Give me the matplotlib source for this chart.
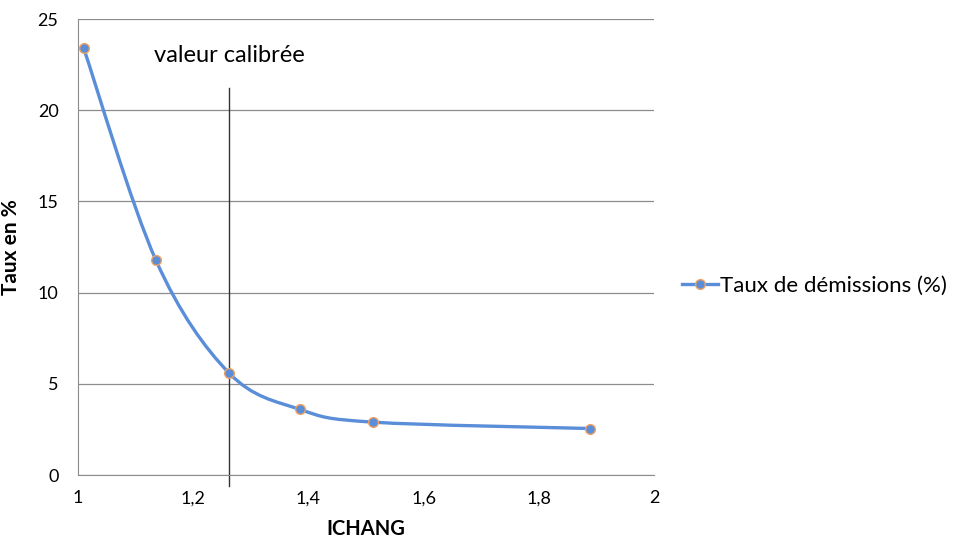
import numpy as np
import matplotlib.pyplot as plt
from matplotlib.path import Path
from matplotlib.patches import PathPatch
from matplotlib.lines import Line2D
from matplotlib.ticker import FuncFormatter

# donnees
ichang = [1.01, 1.135, 1.262, 1.385, 1.512, 1.889]
taux = [23.4, 11.8, 5.6, 3.6, 2.9, 2.55]
x_calib = 1.262

plt.rcParams['font.family'] = ['Lato', 'DejaVu Sans']

fig = plt.figure(figsize=(9.65, 5.46), dpi=100)
ax = fig.add_axes([0.0808, 0.13, 0.597, 0.835])

bleu = '#5A8ED8'
orange = '#F0A062'

# courbe lissee (bezier type Excel)
pts = np.column_stack([ichang, taux])
n = len(pts)
verts = [pts[0]]
codes = [Path.MOVETO]
for i in range(n - 1):
    p0 = pts[i - 1] if i > 0 else pts[i]
    p1 = pts[i]
    p2 = pts[i + 1]
    p3 = pts[i + 2] if i + 2 < n else pts[i + 1]
    c1 = p1 + (p2 - p0) / 6
    c2 = p2 - (p3 - p1) / 6
    verts += [c1, c2, p2]
    codes += [Path.CURVE4] * 3
ax.add_patch(PathPatch(Path(verts, codes), fill=False, edgecolor=bleu, lw=2.4, zorder=3))
ax.plot(ichang, taux, ls='none', marker='o', ms=7, mfc=bleu, mec=orange, mew=1, zorder=4)

# valeur calibree
ax.plot([x_calib, x_calib], [-0.6, 21.2], color='#333333', lw=1, clip_on=False, zorder=2)
ax.text(x_calib, 23.0, 'valeur calibrée', ha='center', va='center', fontsize=17)

ax.set_xlim(1, 2)
ax.set_ylim(0, 25)
ax.set_xticks([1, 1.2, 1.4, 1.6, 1.8, 2])
ax.set_yticks([0, 5, 10, 15, 20, 25])
ax.xaxis.set_major_formatter(FuncFormatter(lambda v, p: ('%g' % v).replace('.', ',')))
ax.grid(axis='y', color='#8C8C8C', lw=0.9)
ax.set_axisbelow(True)
for s in ['top', 'right']:
    ax.spines[s].set_visible(False)
for s in ['left', 'bottom']:
    ax.spines[s].set_color('#8C8C8C')
ax.tick_params(length=0, labelsize=13)
ax.tick_params(axis='x', pad=11)
ax.tick_params(axis='y', pad=14)

ax.set_xlabel('ICHANG', fontsize=14.5, fontweight='bold', labelpad=9)
ax.set_ylabel('Taux en %', fontsize=15, fontweight='bold', labelpad=12)

h = Line2D([], [], color=bleu, lw=2.4, marker='o', ms=7, mfc=bleu, mec=orange)
fig.legend([h], ['Taux de démissions (%)'], loc='center left', bbox_to_anchor=(0.707, 0.477),
           frameon=False, fontsize=16, handlelength=1.6, handletextpad=0.1,
           borderpad=0, borderaxespad=0)

fig.savefig('out.png', dpi=100)
